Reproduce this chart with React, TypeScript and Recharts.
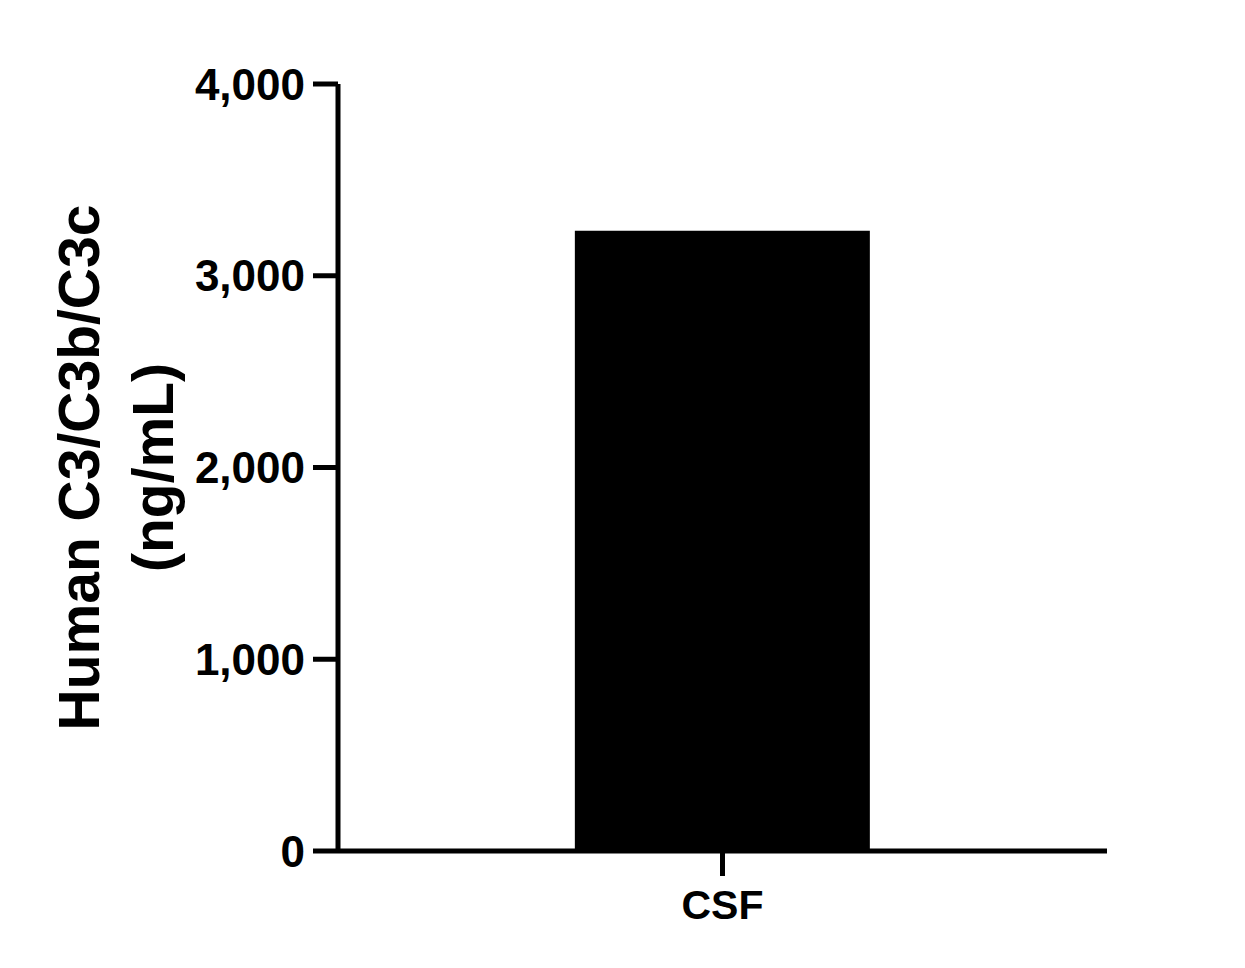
import React from 'react';
import { BarChart, Bar, XAxis, YAxis } from 'recharts';

const categories = ['CSF'];
const concentrations = [3235];
const yTicks = [0, 1000, 2000, 3000, 4000];
const yLabelLines = ['Human C3/C3b/C3c', '(ng/mL)'];

const data = categories.map((name, i) => ({ name, value: concentrations[i] }));

const FONT = '"Liberation Sans", Arial, sans-serif';

function YLabel(props: any) {
  const vb = props.viewBox || {};
  const cx = vb.x + 99;
  const cy = vb.y + vb.height / 2;
  return (
    <text
      transform={`rotate(-90, ${cx}, ${cy})`}
      x={cx}
      y={cy}
      textAnchor="middle"
      fontFamily={FONT}
      fontWeight="bold"
      fontSize={57}
      fill="#000"
    >
      {yLabelLines.map((line, i) => (
        <tspan key={line} x={cx} dy={i === 0 ? 0 : 74}>
          {line}
        </tspan>
      ))}
    </text>
  );
}

export default function App() {
  return (
    <div style={{ position: 'absolute', left: 0, top: 0, width: 1245, height: 968, background: '#fff' }}>
      <BarChart
        width={1245}
        height={968}
        data={data}
        margin={{ top: 84, right: 138, bottom: 0, left: 0 }}
        barCategoryGap="30.8%"
      >
        <XAxis
          dataKey="name"
          height={117}
          axisLine={{ stroke: '#000', strokeWidth: 5 }}
          tickLine={{ stroke: '#000', strokeWidth: 5 }}
          tickSize={25}
          tickMargin={14}
          tick={{ fill: '#000', fontSize: 41, fontWeight: 'bold', fontFamily: FONT }}
        />
        <YAxis
          width={338}
          domain={[0, 4000]}
          ticks={yTicks}
          interval={0}
          tickFormatter={(v: number) => v.toLocaleString('en-US')}
          axisLine={{ stroke: '#000', strokeWidth: 5 }}
          tickLine={{ stroke: '#000', strokeWidth: 5 }}
          tickSize={25}
          tickMargin={8}
          tick={{ fill: '#000', fontSize: 44, fontWeight: 'bold', fontFamily: FONT }}
          label={<YLabel />}
        />
        <Bar dataKey="value" fill="#000" isAnimationActive={false} />
      </BarChart>
    </div>
  );
}
